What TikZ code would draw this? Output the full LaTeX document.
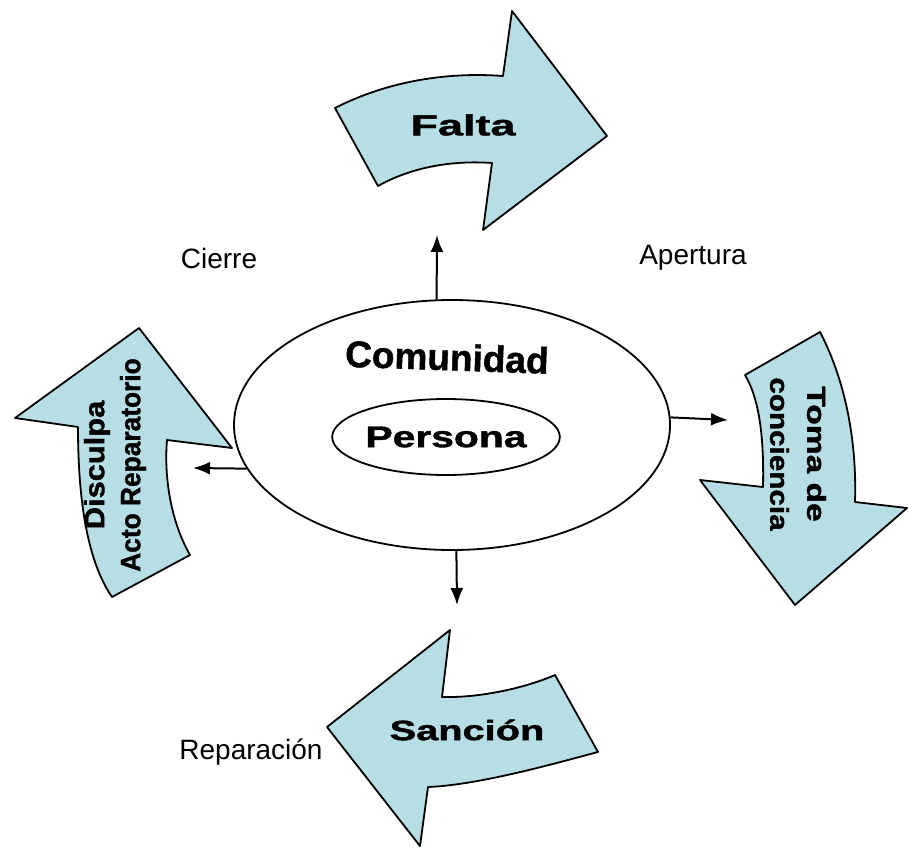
\documentclass[tikz,border=0pt]{standalone}
\usepackage{fontspec}
\setmainfont{Liberation Sans}
\newfontfamily\heavy[FakeBold=1.2]{Liberation Sans}
\usetikzlibrary{arrows.meta,shapes.geometric}
\definecolor{paleblue}{RGB}{183,222,228}
\newcommand{\wlab}[2]{\scalebox{#1}[1]{#2}}

\begin{document}
\begin{tikzpicture}[x=1pt, y=-1pt]
\tikzstyle{curvearrow}=[fill=paleblue, draw=black, line width=1.8pt, line join=round]
\tikzstyle{to}=[-{Latex[length=17pt,width=13pt]}, line width=2pt]
\tikzstyle{heavylbl}=[font=\heavy\bfseries, inner sep=0pt]

\useasboundingbox (0,0) rectangle (909,848);

% curved arrows
\draw[curvearrow] (335,108) .. controls (390,80) and (450,72) .. (503,76) -- (512,11) -- (607,136) -- (483,230) -- (492,163) .. controls (450,160) and (410,168) .. (378,186) -- cycle;
\draw[curvearrow] (745,375) -- (820,332) .. controls (845,380) and (857,440) .. (855,502) -- (907,508) -- (795,605) -- (700,480) -- (763,487) .. controls (764,440) and (760,400) .. (745,375) -- cycle;
\draw[curvearrow] (450,630) -- (442,697) .. controls (480,698) and (525,688) .. (555,675) -- (598,752) .. controls (560,762) and (480,785) .. (428,787) -- (420,846) -- (327,727) -- cycle;
\draw[curvearrow] (15,418) -- (139,328) -- (232,448) -- (167,440) .. controls (164,475) and (170,520) .. (190,555) -- (112,597) .. controls (90,565) and (78,510) .. (78,427) -- cycle;

\node[heavylbl] (falta) at (463,125) {\fontsize{29}{29}\selectfont\wlab{1.55}{Falta}};
\node[heavylbl, font=\heavy\bfseries\fontsize{26}{37}\selectfont, rotate=-90, align=center] (toma) at (798,454) {\wlab{1.29}{Toma de}\\\wlab{1.14}{conciencia}};
\node[heavylbl] (sancion) at (467,730) {\fontsize{28}{28}\selectfont\wlab{1.42}{Sanción}};
\node[heavylbl, font=\heavy\bfseries\fontsize{28}{36}\selectfont, rotate=90, align=center] (disculpa) at (115,465) {\wlab{1.1}{Disculpa}\\\wlab{0.94}{Acto Reparatorio}};

% ellipses
\node[ellipse, draw, line width=1.8pt, minimum width=436pt, minimum height=250pt] (com) at (452,425) {};
\node[heavylbl, rotate=-2] (comtxt) at (447,357) {\fontsize{37}{37}\selectfont Comunidad};
\node[ellipse, draw, line width=1.8pt, minimum width=184pt, minimum height=76pt, heavylbl] (persona) at (446,437) {\fontsize{30}{30}\selectfont\wlab{1.36}{Persona}};

\coordinate (up) at (437,235);
\coordinate (right) at (728,420);
\coordinate (down) at (457,605);
\coordinate (left) at (193,468);

\draw[to] (com.97) -- (up);
\draw[to] (com.2) -- (right);
\draw[to] (com.-88) -- (down);
\draw[to] (com.192) -- (left);

\node[font=\fontsize{28}{28}\selectfont] (cierre) at (219,258) {Cierre};
\node[font=\fontsize{28}{28}\selectfont] (apertura) at (693,258) {Apertura};
\node[font=\fontsize{28}{28}\selectfont] (reparacion) at (251,752) {Reparación};

\end{tikzpicture}
\end{document}
